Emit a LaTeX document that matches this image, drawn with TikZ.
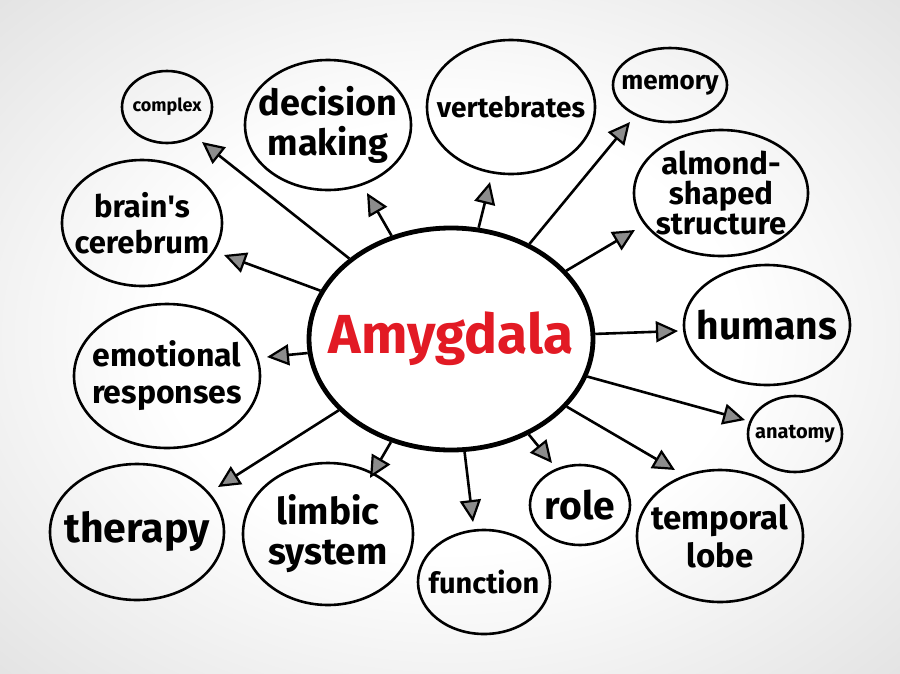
\documentclass[tikz,border=0pt]{standalone}
\usepackage{fontspec}
\setmainfont{Fira Sans}
\usepackage{xcolor}
\usetikzlibrary{shapes.geometric,arrows.meta}

\definecolor{amyred}{RGB}{226,26,36}
\pgfdeclareradialshading{bgshade}{\pgfpoint{0bp}{0bp}}{color(0bp)=(white); color(16bp)=(white); color(36bp)=(black!11); color(50bp)=(black!17)}

\begin{document}
\begin{tikzpicture}[x=1pt, y=-1pt,
    bubble/.style={draw, ellipse, line width=2.6pt, inner sep=-18pt, align=center},
    arr/.style={line width=2.6pt, -{Triangle[length=22pt, width=21pt, fill=black!45, line width=2.2pt]}}]
    % Background
    \shade[shading=bgshade] (0,0) rectangle (900,673);
    \useasboundingbox (0,0) rectangle (900,673);

    % Centre
    \node[draw, ellipse, line width=4.8pt, minimum width=284, minimum height=222, inner sep=-30pt,
          text=amyred, font=\bfseries\fontsize{55}{55}\selectfont] (amy) at (451,339) {Amygdala};

    % Outer bubbles, clockwise from top left
    \node[bubble, minimum width=90, minimum height=72, font=\bfseries\fontsize{18}{20}\selectfont] (complex) at (167,107) {complex};
    \node[bubble, minimum width=166, minimum height=130, font=\bfseries\fontsize{36}{40}\selectfont] (decision) at (328,125) {decision\\making};
    \node[bubble, minimum width=168, minimum height=134, font=\bfseries\fontsize{28}{30}\selectfont] (vertebrates) at (511,107) {vertebrates};
    \node[bubble, minimum width=114, minimum height=74, font=\bfseries\fontsize{26}{26}\selectfont] (memory) at (670,85) {memory};
    \node[bubble, minimum width=174, minimum height=126, font=\bfseries\fontsize{31}{30}\selectfont] (almond) at (721,193) {almond-\\shaped\\structure};
    \node[bubble, minimum width=166, minimum height=120, font=\bfseries\fontsize{39}{40}\selectfont] (humans) at (767,325) {humans};
    \node[bubble, minimum width=94, minimum height=76, font=\bfseries\fontsize{20}{20}\selectfont] (anatomy) at (795,434) {anatomy};
    \node[bubble, minimum width=166, minimum height=132, font=\bfseries\fontsize{33}{38}\selectfont] (temporal) at (720,536) {temporal\\lobe};
    \node[bubble, minimum width=100, minimum height=80, font=\bfseries\fontsize{39}{36}\selectfont] (role) at (580,505) {role};
    \node[bubble, minimum width=132, minimum height=104, font=\bfseries\fontsize{29}{30}\selectfont] (function) at (484,582) {function};
    \node[bubble, minimum width=170, minimum height=142, font=\bfseries\fontsize{37}{40}\selectfont] (limbic) at (328,534) {limbic\\system};
    \node[bubble, minimum width=174, minimum height=136, font=\bfseries\fontsize{41}{40}\selectfont] (therapy) at (137,532) {therapy};
    \node[bubble, minimum width=186, minimum height=144, font=\bfseries\fontsize{32}{37}\selectfont] (emotional) at (167,376) {emotional\\responses};
    \node[bubble, minimum width=160, minimum height=126, font=\bfseries\fontsize{31}{36}\selectfont] (cerebrum) at (142,223) {brain\textquotesingle s\\cerebrum};

    % Arrow tips
    \coordinate (t-complex) at (202,142);
    \coordinate (t-decision) at (367,193);
    \coordinate (t-vertebrates) at (490,182);
    \coordinate (t-memory) at (630,122);
    \coordinate (t-almond) at (635,230);
    \coordinate (t-humans) at (678,331);
    \coordinate (t-anatomy) at (745,420);
    \coordinate (t-temporal) at (675,470);
    \coordinate (t-role) at (552,463);
    \coordinate (t-function) at (473,522);
    \coordinate (t-limbic) at (370,478);
    \coordinate (t-therapy) at (218,487);
    \coordinate (t-emotional) at (267,357);
    \coordinate (t-cerebrum) at (224,255);

    % Arrows out of the centre
    \foreach \t in {complex,decision,vertebrates,memory,almond,humans,anatomy,
                    temporal,role,function,limbic,therapy,emotional,cerebrum}
        \draw[arr] (amy) -- (t-\t);
\end{tikzpicture}
\end{document}
